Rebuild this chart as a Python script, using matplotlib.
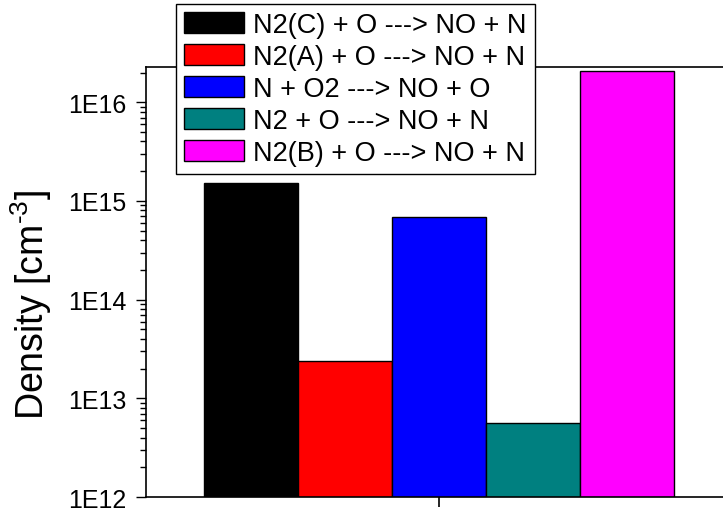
import numpy as np
import matplotlib
matplotlib.use("Agg")
import matplotlib.pyplot as plt
from matplotlib.ticker import FuncFormatter, LogLocator

# reactions and densities (cm^-3)
reactions = ['N2(C) + O ---> NO + N', 'N2(A) + O ---> NO + N', 'N + O2 ---> NO + O',
             'N2 + O ---> NO + N', 'N2(B) + O ---> NO + N']
densities = [1.53e15, 2.38e13, 6.9e14, 5.6e12, 2.07e16]
colors = ['#000000', '#ff0000', '#0000ff', '#008080', '#ff00ff']

plt.rcParams['font.family'] = ['Liberation Sans', 'DejaVu Sans']
plt.rcParams['mathtext.fontset'] = 'custom'
plt.rcParams['mathtext.rm'] = 'Liberation Sans'
plt.rcParams['mathtext.it'] = 'Liberation Sans'

fig = plt.figure(figsize=(7.23, 5.10), dpi=100)
ax = fig.add_axes([0.202, 0.0235, 0.81, 0.843])

w = 0.2
for i, (lab, d, c) in enumerate(zip(reactions, densities, colors)):
    ax.bar(1 + (i - 2) * w, d, width=w, color=c, edgecolor='black', linewidth=1,
           label=lab)

ax.set_yscale('log')
ax.set_ylim(1e12, 2.27e16)
ax.set_xlim(1 - 0.623, 1 + 0.623)
ax.set_xticks([1])
ax.set_xticklabels([''])
ax.yaxis.set_major_locator(LogLocator(base=10, numticks=10))
ax.yaxis.set_minor_locator(LogLocator(base=10, subs=np.arange(2, 10), numticks=10))
ax.yaxis.set_major_formatter(FuncFormatter(lambda v, p: '1E%d' % round(np.log10(v))))
ax.tick_params(axis='y', which='major', length=7, width=1, labelsize=18, pad=7, direction='out')
ax.tick_params(axis='y', which='minor', length=4, width=1, direction='out')
ax.tick_params(axis='x', which='major', length=7, width=1.2, direction='out')
ax.set_ylabel(r'Density [cm$^{\text{-3}}$]', fontsize=27)
ax.yaxis.set_label_coords(-0.157, 0.45)
for s in ax.spines.values():
    s.set_linewidth(1.2)

leg = ax.legend(loc='upper left', bbox_to_anchor=(176 / 723, 1 - 5 / 510),
                bbox_transform=fig.transFigure, fontsize=19.5, frameon=True,
                fancybox=False, edgecolor='black', framealpha=1,
                handlelength=2.2, handleheight=0.8, handletextpad=0.35,
                labelspacing=0.22, borderpad=0.3, borderaxespad=0)
leg.get_frame().set_linewidth(1)

fig.savefig('out.png', dpi=100)
